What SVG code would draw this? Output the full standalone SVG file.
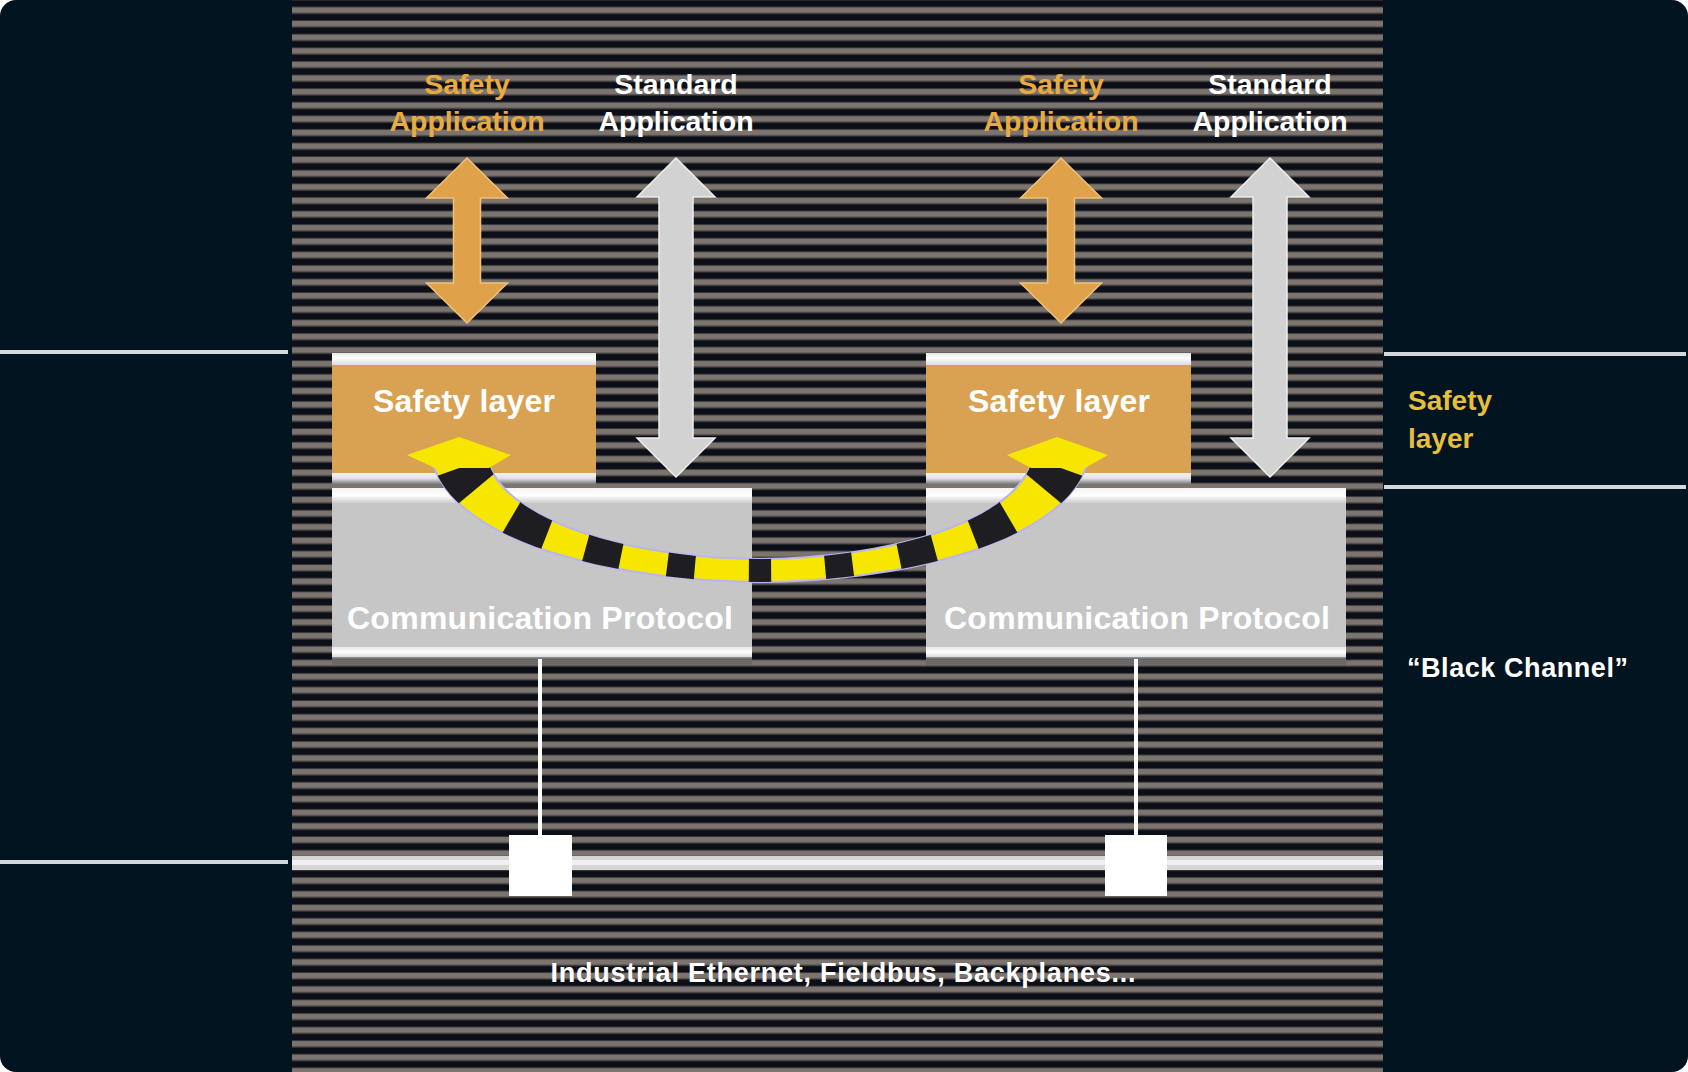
<svg xmlns="http://www.w3.org/2000/svg" width="1688" height="1072" viewBox="0 0 1688 1072">
  <style>
    .lbl { font-family: "Liberation Sans", Arial, sans-serif; font-weight: bold; }
    .orange { fill: #e9ab3f; }
    .yellowlbl { fill: #e6bf3c; }
    .white { fill: #ffffff; }
    .boxtxt { fill: #ffffff; font-size: 32px; text-anchor: middle; }
    .rule { stroke: #d4d8dc; stroke-width: 4; }
  </style>
  <defs>
    <pattern id="stripes" patternUnits="userSpaceOnUse" x="0" y="6.5" width="40" height="13.6">
      <rect x="0" y="0" width="40" height="13.6" fill="#0c0f18"/>
      <rect x="0" y="0" width="40" height="1" fill="#3e3b3a"/>
      <rect x="0" y="1" width="40" height="5.6" fill="#7b746f"/>
      <rect x="0" y="6.6" width="40" height="1" fill="#3e3b3a"/>
    </pattern>
    <linearGradient id="topStrip" x1="0" y1="0" x2="0" y2="1">
      <stop offset="0" stop-color="#e6e6e6"/>
      <stop offset="0.4" stop-color="#ffffff"/>
      <stop offset="1" stop-color="#dcdcdc"/>
    </linearGradient>
    <linearGradient id="botStripSafety" x1="0" y1="0" x2="0" y2="1">
      <stop offset="0" stop-color="#f4f4f4"/>
      <stop offset="0.5" stop-color="#e0e0e0"/>
      <stop offset="1" stop-color="#7a7a7a"/>
    </linearGradient>
    <linearGradient id="commTop" x1="0" y1="0" x2="0" y2="1">
      <stop offset="0" stop-color="#f2f2f2"/>
      <stop offset="0.5" stop-color="#ffffff"/>
      <stop offset="1" stop-color="#cdcdcd"/>
    </linearGradient>
    <linearGradient id="commBot" x1="0" y1="0" x2="0" y2="1">
      <stop offset="0" stop-color="#e8e8e8"/>
      <stop offset="0.5" stop-color="#ffffff"/>
      <stop offset="1" stop-color="#dadada"/>
    </linearGradient>
    <linearGradient id="commShadow" x1="0" y1="0" x2="0" y2="1">
      <stop offset="0" stop-color="#9a9a9a"/>
      <stop offset="1" stop-color="#2a2a2e" stop-opacity="0"/>
    </linearGradient>
    <path id="arrOrange" d="M0,0 L40.5,40 L13.5,40 L13.5,125 L40.5,125 L0,165 L-40.5,125 L-13.5,125 L-13.5,40 L-40.5,40 Z" fill="#dfa24a" stroke="#f0c27a" stroke-width="1.5"/>
    <path id="arrGray" d="M0,0 L39,39 L17,39 L17,280 L39,280 L0,319 L-39,280 L-17,280 L-17,39 L-39,39 Z" fill="#d2d2d2" stroke="#eeeeee" stroke-width="1.5"/>
    <path id="band" d="M434,467 C462,547 630,582 760,582 C890,582 1058,547 1086,467 L1030,467 C1006,525 880,559 760,559 C640,559 514,525 490,467 Z"/>
    <clipPath id="bandClip">
      <use href="#band"/>
    </clipPath>
  </defs>

  <!-- background -->
  <rect x="0" y="0" width="1688" height="1072" fill="#ffffff"/>
  <rect x="0" y="0" width="1688" height="1072" rx="16" ry="16" fill="#02141f"/>
  <rect x="292" y="0" width="1091" height="1072" fill="url(#stripes)"/>

  <!-- side rules -->
  <g id="rules">
    <line class="rule" x1="0" y1="352" x2="288" y2="352"/>
    <line class="rule" x1="0" y1="862" x2="288" y2="862"/>
    <line class="rule" x1="1384" y1="354" x2="1686" y2="354"/>
    <line class="rule" x1="1384" y1="487" x2="1686" y2="487"/>
  </g>

  <!-- left stack -->
  <g id="safety-layer-left">
    <rect x="332" y="353" width="264" height="12" fill="url(#topStrip)"/>
    <rect x="332" y="365" width="264" height="108" fill="#d9a152"/>
    <rect x="332" y="473" width="264" height="11" fill="url(#botStripSafety)"/>
    <text class="lbl boxtxt" x="464" y="412" textLength="182">Safety layer</text>
  </g>
  <g id="comm-protocol-left">
    <rect x="332" y="488" width="420" height="15" fill="url(#commTop)"/>
    <rect x="332" y="503" width="420" height="144" fill="#c6c6c6"/>
    <rect x="332" y="647" width="420" height="10" fill="url(#commBot)"/>
    <rect x="332" y="657" width="420" height="9" fill="url(#commShadow)"/>
    <text class="lbl boxtxt" x="540" y="629" textLength="386">Communication Protocol</text>
  </g>

  <!-- right stack -->
  <g id="safety-layer-right">
    <rect x="926" y="353" width="265" height="12" fill="url(#topStrip)"/>
    <rect x="926" y="365" width="265" height="108" fill="#d9a152"/>
    <rect x="926" y="473" width="265" height="11" fill="url(#botStripSafety)"/>
    <text class="lbl boxtxt" x="1059" y="412" textLength="182">Safety layer</text>
  </g>
  <g id="comm-protocol-right">
    <rect x="926" y="488" width="420" height="15" fill="url(#commTop)"/>
    <rect x="926" y="503" width="420" height="144" fill="#c6c6c6"/>
    <rect x="926" y="647" width="420" height="10" fill="url(#commBot)"/>
    <rect x="926" y="657" width="420" height="9" fill="url(#commShadow)"/>
    <text class="lbl boxtxt" x="1137" y="629" textLength="386">Communication Protocol</text>
  </g>

  <!-- labels -->
  <g id="label-safety-app-left" class="lbl orange" font-size="28.5" text-anchor="middle">
    <text x="467" y="94">Safety</text>
    <text x="467" y="131">Application</text>
  </g>
  <g id="label-standard-app-left" class="lbl white" font-size="28.5" text-anchor="middle">
    <text x="676" y="94">Standard</text>
    <text x="676" y="131">Application</text>
  </g>
  <g id="label-safety-app-right" class="lbl orange" font-size="28.5" text-anchor="middle">
    <text x="1061" y="94">Safety</text>
    <text x="1061" y="131">Application</text>
  </g>
  <g id="label-standard-app-right" class="lbl white" font-size="28.5" text-anchor="middle">
    <text x="1270" y="94">Standard</text>
    <text x="1270" y="131">Application</text>
  </g>
  <g id="label-safety-layer-side" class="lbl yellowlbl" font-size="28">
    <text x="1408" y="410">Safety</text>
    <text x="1408" y="448">layer</text>
  </g>
  <g id="label-black-channel" class="lbl white" font-size="27">
    <text x="1407" y="677" textLength="221">“Black Channel”</text>
  </g>
  <g id="label-bus" class="lbl white" font-size="27">
    <text x="843" y="982" text-anchor="middle" textLength="585">Industrial Ethernet, Fieldbus, Backplanes...</text>
  </g>

  <!-- connectors -->
  <g id="connectors">
    <use href="#arrOrange" x="467" y="158"/>
    <use href="#arrGray" x="676" y="158"/>
    <use href="#arrOrange" x="1061" y="158"/>
    <use href="#arrGray" x="1270" y="158"/>

    <line x1="540" y1="659" x2="540" y2="836" stroke="#ffffff" stroke-width="4"/>
    <line x1="1136" y1="659" x2="1136" y2="836" stroke="#ffffff" stroke-width="4"/>
    <rect x="292" y="856" width="1091" height="14" fill="#d6d6d6"/>
    <rect x="292" y="860" width="1091" height="5" fill="#f0f0f0"/>

    <!-- black channel arc -->
    <use href="#band" fill="#f7e600" stroke="#b9b6ee" stroke-width="2"/>
    <g clip-path="url(#bandClip)">
      <path d="M462,467 C487,537 635,570 760,570 C885,570 1033,537 1058,467" fill="none" stroke="#1e1e22" stroke-width="80" pathLength="1000" stroke-dasharray="40 70 60 62.5 55 71.5 42 82 34 82 42 71.5 55 62.5 60 70 40 100"/>
    </g>
    <path d="M459,437 L511,455 L489,468 L435,468 L407,455 Z" fill="#f7e600"/>
    <path d="M1057,437 L1108,455 L1085,468 L1031,468 L1007,455 Z" fill="#f7e600"/>
  </g>

  <!-- nodes on bus -->
  <g id="node-left"><rect x="509" y="835" width="63" height="61" fill="#ffffff"/></g>
  <g id="node-right"><rect x="1105" y="835" width="62" height="61" fill="#ffffff"/></g>
</svg>
